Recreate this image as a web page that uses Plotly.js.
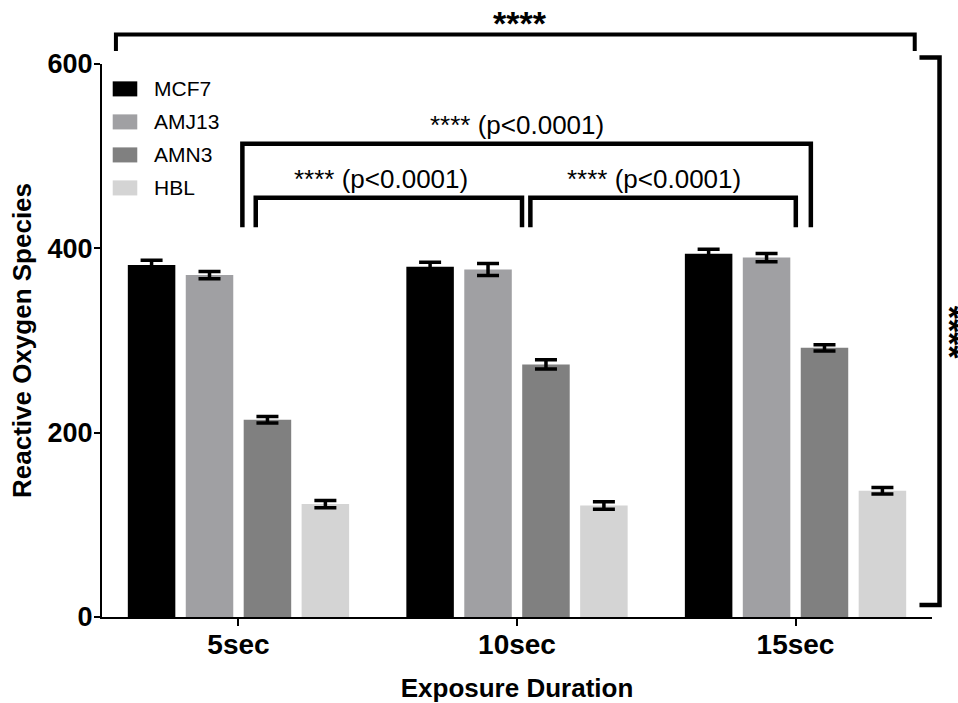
<!DOCTYPE html>
<html>
<head>
<meta charset="utf-8">
<script src="https://cdn.plot.ly/plotly-3.0.1.min.js"></script>
<style>
  html, body { margin: 0; padding: 0; background: #ffffff; }
  #chart { width: 958px; height: 703px; }
</style>
</head>
<body>
<div id="chart"></div>
<script>
// Reactive oxygen species by exposure duration, four cell lines (mean ± error)
const categories = ['5sec', '10sec', '15sec'];
const seriesNames = ['MCF7', 'AMJ13', 'AMN3', 'HBL'];

const mcf7     = [382, 380, 394];
const mcf7Err  = [5, 5, 5];
const amj13    = [371, 377, 390];
const amj13Err = [4, 6.5, 4.5];
const amn3     = [214, 274, 292];
const amn3Err  = [3.5, 5, 3.5];
const hbl      = [122.5, 121, 137];
const hblErr   = [4, 4, 3.5];

const yTickVals = [0, 200, 400, 600];

const colors = ['#000000', '#a0a0a3', '#808080', '#d4d4d4'];
const values = [mcf7, amj13, amn3, hbl];
const errors = [mcf7Err, amj13Err, amn3Err, hblErr];

const FONT = '"Liberation Sans", Arial, Helvetica, sans-serif';
const xRange = [-0.49, 2.49];
const yRange = [0, 600];

// category / value units -> paper units (so brackets can sit outside the plot area)
const toPX = c => (c - xRange[0]) / (xRange[1] - xRange[0]);
const toPY = v => (v - yRange[0]) / (yRange[1] - yRange[0]);

const traces = seriesNames.map((name, i) => ({
  type: 'bar',
  name: name,
  x: categories,
  y: values[i],
  marker: { color: colors[i], line: { width: 0 } },
  error_y: { type: 'data', array: errors[i], visible: true, color: '#000000', thickness: 3.5, width: 11 },
  showlegend: false,
  hoverinfo: 'x+y+name'
}));

// significance brackets: [from, to, top value, leg end value, line width]
const brackets = [
  [0.062, 1.018, 455, 423, 4.5],
  [1.048, 2.001, 455, 423, 4.5],
  [0.014, 2.055, 513.5, 423, 4.5],
  [-0.44, 2.428, 632, 614, 4]
];
const shapes = brackets.map(([c0, c1, top, bottom, w]) => ({
  type: 'path', xref: 'paper', yref: 'paper',
  path: `M${toPX(c0)},${toPY(bottom)} L${toPX(c0)},${toPY(top)} L${toPX(c1)},${toPY(top)} L${toPX(c1)},${toPY(bottom)}`,
  line: { color: '#000000', width: w }
}));
// vertical bracket on the right spanning the whole value range
shapes.push({
  type: 'path', xref: 'paper', yref: 'paper',
  path: `M${toPX(2.445)},${toPY(607)} L${toPX(2.517)},${toPY(607)} L${toPX(2.517)},${toPY(13)} L${toPX(2.445)},${toPY(13)}`,
  line: { color: '#000000', width: 4.5 }
});

const annotations = [
  { x: toPX(0.51), y: toPY(457), text: '**** (p<0.0001)' },
  { x: toPX(1.492), y: toPY(457), text: '**** (p<0.0001)' },
  { x: toPX(1.001), y: toPY(515.5), text: '**** (p<0.0001)' }
].map(a => Object.assign(a, {
  xref: 'paper', yref: 'paper', xanchor: 'center', yanchor: 'bottom', showarrow: false,
  font: { family: FONT, size: 26, color: '#000000' }
}));
annotations.push({
  xref: 'paper', yref: 'paper', x: toPX(1.012), y: toPY(645), text: '****',
  xanchor: 'center', yanchor: 'middle', showarrow: false,
  font: { family: FONT, size: 34, color: '#000000', weight: 'bold' }
});
annotations.push({
  xref: 'paper', yref: 'paper', x: toPX(2.553), y: toPY(309), text: '****', textangle: 90,
  xanchor: 'center', yanchor: 'middle', showarrow: false,
  font: { family: FONT, size: 34, color: '#000000', weight: 'bold' }
});

// legend: swatch + label per series, stacked in the top-left of the plot
const legendX0 = 0.0129, legendX1 = 0.0425, legendTextX = 0.0599;
const legendTop = 0.955, legendStep = 0.0597, swatchHalf = 0.0136;
seriesNames.forEach((name, i) => {
  const yc = legendTop - i * legendStep;
  shapes.push({
    type: 'rect', xref: 'paper', yref: 'paper',
    x0: legendX0, x1: legendX1, y0: yc - swatchHalf, y1: yc + swatchHalf,
    fillcolor: colors[i], line: { width: 0 }
  });
  annotations.push({
    xref: 'paper', yref: 'paper', x: legendTextX, y: yc, text: name,
    xanchor: 'left', yanchor: 'middle', showarrow: false,
    font: { family: FONT, size: 21, color: '#000000' }
  });
});

const layout = {
  width: 958,
  height: 703,
  margin: { l: 102, r: 26, t: 64, b: 86 },
  paper_bgcolor: '#ffffff',
  plot_bgcolor: '#ffffff',
  font: { family: FONT, color: '#000000' },
  barmode: 'group',
  bargap: 0.168,
  bargroupgap: 0.18,
  xaxis: {
    type: 'category',
    range: xRange,
    showline: true, linecolor: '#000000', linewidth: 2,
    ticks: 'outside', ticklen: 7, tickwidth: 2, tickcolor: '#000000',
    ticklabelstandoff: -6,
    showgrid: false, zeroline: false,
    tickfont: { family: FONT, size: 28, weight: 'bold', color: '#000000' },
    title: { text: 'Exposure Duration', font: { family: FONT, size: 26, weight: 'bold', color: '#000000' }, standoff: 30 }
  },
  yaxis: {
    range: yRange,
    tickvals: yTickVals,
    ticktext: yTickVals.map(String),
    showline: true, linecolor: '#000000', linewidth: 2,
    ticks: 'outside', ticklen: 6, tickwidth: 2, tickcolor: '#000000',
    ticklabelstandoff: -4,
    showgrid: false, zeroline: false,
    tickfont: { family: FONT, size: 27, weight: 'bold', color: '#000000' },
    title: { text: 'Reactive Oxygen Species', font: { family: FONT, size: 26, weight: 'bold', color: '#000000' }, standoff: 8 }
  },
  shapes: shapes,
  annotations: annotations
};

Plotly.newPlot('chart', traces, layout, { displayModeBar: false, responsive: false });
</script>
</body>
</html>
